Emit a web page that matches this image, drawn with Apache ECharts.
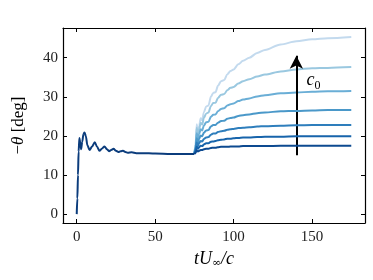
<!DOCTYPE html>
<html><head><meta charset="utf-8">
<script src="https://cdn.jsdelivr.net/npm/echarts@6/dist/echarts.min.js"></script>
<style>html,body{margin:0;padding:0;background:#fff}#c{width:373px;height:280px}</style>
</head><body><div id="c"></div>
<script>
// Early (shared) transient
const tEarly = [0,0.4,0.8,1.2,1.7,2.3,2.8,3.5,4.3,5.0,5.8,6.8,8.2,9.8,11.5,13.0,14.5,16.2,17.7,19.2,20.6,22.0,23.5,25.0,26.6,28.0,29.5,31.0,32.5,35,38,42,50,60,75];
const vEarly = [0,4,10,16,19.5,18,16.6,18.5,20.5,20.9,20,17.6,16.4,17.3,18.4,17.2,16.2,16.8,17.3,16.6,16.1,16.4,16.7,16.2,15.9,16.1,16.2,15.9,15.7,15.8,15.6,15.6,15.5,15.4,15.4];

// Late phase, one series per c0 value (lowest to highest)
const tLate = [75,75.8,76.5,77.3,78,79,80,81,82.5,84,85.5,87,88.5,90,92,94,96,98,100,103,106,110,115,120,130,140,150,160,175];
const v0 = [15.4,15.7,16.3,16.0,16.2,16.4,16.4,16.6,16.7,16.7,16.9,17.0,17.0,17.1,17.2,17.2,17.2,17.3,17.3,17.3,17.4,17.4,17.4,17.4,17.5,17.5,17.5,17.5,17.5];
const v1 = [15.4,16.1,17.2,16.7,17.1,17.5,17.4,17.8,18.1,18.1,18.5,18.6,18.7,18.9,19.0,19.1,19.3,19.3,19.4,19.5,19.6,19.6,19.7,19.8,19.8,19.9,19.9,19.9,19.9];
const v2 = [15.4,16.5,18.3,17.4,18.1,18.7,18.6,19.2,19.6,19.7,20.3,20.6,20.6,21.0,21.2,21.3,21.6,21.7,21.8,22.0,22.1,22.2,22.4,22.5,22.6,22.7,22.8,22.8,22.8];
const v3 = [15.4,16.9,19.4,18.2,19.2,20.1,19.9,20.8,21.4,21.5,22.4,22.8,22.8,23.4,23.8,23.9,24.4,24.6,24.7,25.1,25.3,25.5,25.8,26.0,26.3,26.4,26.5,26.6,26.6];
const v4 = [15.4,17.3,20.7,19.1,20.4,21.7,21.4,22.6,23.5,23.6,24.9,25.4,25.5,26.3,26.9,27.1,27.8,28.1,28.3,28.9,29.3,29.6,30.1,30.4,30.9,31.1,31.3,31.4,31.5];
const v5 = [15.4,17.8,22.1,20.0,21.7,23.3,22.9,24.6,25.7,26.0,27.6,28.4,28.5,29.7,30.5,30.7,31.7,32.3,32.5,33.4,34.0,34.5,35.2,35.7,36.5,37.0,37.3,37.4,37.6];
const v6 = [15.4,18.0,23.0,20.5,22.5,24.5,24.0,26.0,27.5,27.8,30.0,31.0,31.2,32.8,34.0,34.3,35.8,36.6,37.0,38.3,39.2,40.0,41.2,42.0,43.4,44.2,44.7,45.0,45.3];
const lateSeries = [v0,v1,v2,v3,v4,v5,v6];

const xTicks = [0,50,100,150];
const yTicks = [0,10,20,30,40];
const arrowFrom = [140,15.05];
const arrowTo = [140,40.5];
const labelAt = [146.5,34.2];

const colors = ['#0d4a90','#1764ab','#2e7ebc','#4a98c9','#6aaed6','#9ac8e0','#c3daee'];
const baseColor = '#0b3c7c';
const FONT = 'Liberation Serif';

const chart = echarts.init(document.getElementById('c'), null, {renderer:'canvas'});
const pairs = (t,v) => t.map((x,i)=>[x,v[i]]);

const series = [];
lateSeries.slice().reverse().forEach((v, k) => {
  const idx = lateSeries.length - 1 - k;
  series.push({
    type:'line', data: pairs(tLate, v), showSymbol:false, smooth:0.3, smoothMonotone:'x',
    lineStyle:{color: colors[idx], width:2}, z: 2 + k, silent:true
  });
});
series.push({
  type:'line', data: pairs(tEarly, vEarly), showSymbol:false, smooth:0.3, smoothMonotone:'x',
  lineStyle:{color: baseColor, width:2}, z: 20, silent:true,
  markLine:{
    silent:true, symbol:['none','arrow'], symbolSize:[10,13],
    lineStyle:{color:'#000', width:2, type:'solid'}, label:{show:false},
    data:[[{coord:arrowFrom},{coord:arrowTo}]]
  },
  markPoint:{
    silent:true, symbol:'circle', symbolSize:0,
    data:[{coord:labelAt}],
    label:{show:true, position:'right', distance:0,
      formatter:'{c|c}{s|0}',
      rich:{c:{fontFamily:FONT, fontStyle:'italic', fontSize:18, color:'#000'},
            s:{fontFamily:FONT, fontSize:12, color:'#000', verticalAlign:'bottom', padding:[10,0,0,0]}}}
  }
});

const axLine = {show:true, onZero:false, lineStyle:{color:'#000', width:1.2}};
const tickStyle = (vals) => ({show:true, inside:true, length:4, lineStyle:{color:'#000', width:1}, customValues: vals});

chart.setOption({
  animation:false,
  grid:{left:63, right:8, top:28, bottom:57, containLabel:false},
  xAxis:[
    {type:'value', min:-8.75, max:183.75, position:'bottom',
     axisLine:axLine, axisTick:tickStyle(xTicks), splitLine:{show:false},
     axisLabel:{customValues:xTicks, margin:7, fontFamily:FONT, fontSize:15, color:'#222'},
     name:'{i|tU}{s|∞}{i|/c}', nameLocation:'middle', nameGap:27,
     nameTextStyle:{rich:{i:{fontFamily:FONT, fontStyle:'italic', fontSize:18, color:'#000'},
                          s:{fontFamily:'DejaVu Serif', fontSize:11, color:'#000', verticalAlign:'bottom', padding:[8,0,0,0]}}}},
    {type:'value', min:-8.75, max:183.75, position:'top',
     axisLine:axLine, axisTick:tickStyle(xTicks), splitLine:{show:false}, axisLabel:{show:false}}
  ],
  yAxis:[
    {type:'value', min:-2.27, max:47.6, position:'left',
     axisLine:axLine, axisTick:tickStyle(yTicks), splitLine:{show:false},
     axisLabel:{customValues:yTicks, margin:5, fontFamily:FONT, fontSize:15, color:'#222'},
     name:'{n|−}{i|θ}{n| [deg]}', nameLocation:'middle', nameGap:36, nameRotate:90,
     nameTextStyle:{rich:{n:{fontFamily:FONT, fontSize:17, color:'#000'},
                          i:{fontFamily:FONT, fontStyle:'italic', fontSize:17, color:'#000'}}}},
    {type:'value', min:-2.27, max:47.6, position:'right',
     axisLine:axLine, axisTick:tickStyle(yTicks), splitLine:{show:false}, axisLabel:{show:false}}
  ],
  series: series
});
</script></body></html>
